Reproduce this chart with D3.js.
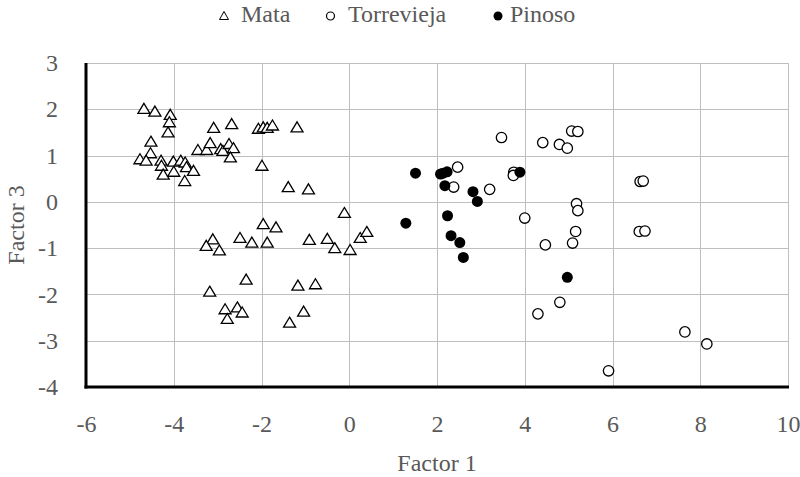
<!DOCTYPE html>
<html>
<head>
<meta charset="utf-8">
<script src="https://cdn.jsdelivr.net/npm/d3@7"></script>
<style>
  body { margin: 0; background: #fff; }
  text { font-family: "Liberation Serif", serif; fill: #595959; }
</style>
</head>
<body>
<script>
// Factor 1 vs Factor 3 scatter

const svgWidth = 800;
const svgHeight = 477;

const margin = { top: 63, right: 12, bottom: 90, left: 86 };
const width = svgWidth - margin.left - margin.right;
const height = svgHeight - margin.top - margin.bottom;

// tick values
const xTicks = [-6, -4, -2, 0, 2, 4, 6, 8, 10];
const yTicks = [-4, -3, -2, -1, 0, 1, 2, 3];

// [factor1, factor3]
const mata = [
  [-4.68, 2.01], [-4.43, 1.95], [-4.08, 1.88], [-4.10, 1.72], [-4.13, 1.50],
  [-3.09, 1.60], [-2.68, 1.68], [-2.07, 1.58], [-1.96, 1.61], [-1.87, 1.60],
  [-1.75, 1.65], [-1.19, 1.61], [-4.52, 1.30], [-4.53, 1.05], [-4.77, 0.92],
  [-4.63, 0.89], [-4.29, 0.89], [-4.28, 0.78], [-4.24, 0.59], [-4.01, 0.87],
  [-4.00, 0.65], [-3.84, 0.89], [-3.74, 0.85], [-3.71, 0.75], [-3.55, 0.67],
  [-3.75, 0.45], [-3.45, 1.12], [-3.25, 1.12], [-3.17, 1.27], [-2.93, 1.14],
  [-2.88, 1.10], [-2.74, 1.25], [-2.64, 1.16], [-2.71, 0.96], [-1.99, 0.78],
  [-1.39, 0.32], [-0.93, 0.27], [-0.11, -0.24], [-1.96, -0.48], [-1.67, -0.55],
  [-3.11, -0.81], [-3.26, -0.95], [-2.96, -1.05], [-2.49, -0.78], [-2.22, -0.88],
  [-1.87, -0.88], [-0.91, -0.82], [-0.50, -0.80], [-0.33, -1.00], [0.02, -1.04],
  [0.25, -0.78], [0.40, -0.65], [-2.35, -1.68], [-3.18, -1.94], [-1.17, -1.81],
  [-0.77, -1.78], [-2.83, -2.32], [-2.55, -2.28], [-2.44, -2.39], [-2.78, -2.53],
  [-1.04, -2.37], [-1.36, -2.61]
];

const torrevieja = [
  [3.47, 1.39], [4.41, 1.28], [4.79, 1.24], [4.97, 1.16], [5.07, 1.53],
  [5.21, 1.52], [2.47, 0.75], [2.38, 0.32], [3.20, 0.27], [3.75, 0.64],
  [3.74, 0.57], [4.00, -0.35], [4.47, -0.93], [6.63, 0.44], [6.70, 0.45],
  [5.18, -0.04], [5.21, -0.19], [5.16, -0.64], [6.61, -0.64], [6.74, -0.63],
  [5.09, -0.89], [4.80, -2.17], [4.30, -2.42], [7.65, -2.81], [5.91, -3.65],
  [8.15, -3.07]
];

const pinoso = [
  [1.51, 0.62], [2.08, 0.60], [2.14, 0.62], [2.23, 0.65], [2.18, 0.35],
  [2.82, 0.22], [2.92, 0.01], [3.89, 0.64], [1.29, -0.46], [2.24, -0.30],
  [2.32, -0.73], [2.52, -0.88], [2.60, -1.20], [4.97, -1.63]
];

const triPath = "M0,-5.5L6,4.5L-6,4.5Z";
const fontSize = "24px";

let svg = d3.select("body")
  .append("svg")
  .attr("width", svgWidth)
  .attr("height", svgHeight);

let chartGroup = svg.append("g")
  .attr("transform", `translate(${margin.left}, ${margin.top})`);

const xScale = d3.scaleLinear().domain([-6, 10]).range([0, width]);
const yScale = d3.scaleLinear().domain([-4, 3]).range([height, 0]);

// gridlines
chartGroup.append("g")
  .selectAll("line")
  .data(xTicks)
  .enter()
  .append("line")
  .attr("x1", d => Math.round(xScale(d)) + 0.5)
  .attr("x2", d => Math.round(xScale(d)) + 0.5)
  .attr("y1", 0)
  .attr("y2", height)
  .attr("stroke", "#bfbfbf")
  .attr("stroke-width", 1);

chartGroup.append("g")
  .selectAll("line")
  .data(yTicks)
  .enter()
  .append("line")
  .attr("x1", 0)
  .attr("x2", width)
  .attr("y1", d => Math.round(yScale(d)) + 0.5)
  .attr("y2", d => Math.round(yScale(d)) + 0.5)
  .attr("stroke", "#bfbfbf")
  .attr("stroke-width", 1);

// axes
const bottomAxis = d3.axisBottom(xScale).tickValues(xTicks).tickSize(0).tickPadding(28).tickFormat(d => String(d));
const leftAxis = d3.axisLeft(yScale).tickValues(yTicks).tickSize(0).tickPadding(28).tickFormat(d => String(d));

let xAxis = chartGroup.append("g")
  .attr("transform", `translate(0, ${height})`)
  .call(bottomAxis);

let yAxis = chartGroup.append("g")
  .call(leftAxis);

[xAxis, yAxis].forEach(a => {
  a.select(".domain").remove();
  a.selectAll("text")
    .attr("fill", "#595959")
    .style("font-family", "'Liberation Serif', serif")
    .style("font-size", fontSize);
});

chartGroup.append("line")
  .attr("x1", -1.5).attr("x2", width + 1)
  .attr("y1", height).attr("y2", height)
  .attr("stroke", "#000").attr("stroke-width", 3);

chartGroup.append("line")
  .attr("x1", 0).attr("x2", 0)
  .attr("y1", 0).attr("y2", height + 1.5)
  .attr("stroke", "#000").attr("stroke-width", 3);

// markers
chartGroup.append("g")
  .selectAll("path")
  .data(mata)
  .enter()
  .append("path")
  .attr("d", triPath)
  .attr("transform", d => `translate(${xScale(d[0])}, ${yScale(d[1])})`)
  .attr("fill", "#fff")
  .attr("stroke", "#000")
  .attr("stroke-width", 1.3);

chartGroup.append("g")
  .selectAll("circle")
  .data(torrevieja)
  .enter()
  .append("circle")
  .attr("cx", d => xScale(d[0]))
  .attr("cy", d => yScale(d[1]))
  .attr("r", 5.2)
  .attr("fill", "#fff")
  .attr("stroke", "#000")
  .attr("stroke-width", 1.3);

chartGroup.append("g")
  .selectAll("circle")
  .data(pinoso)
  .enter()
  .append("circle")
  .attr("cx", d => xScale(d[0]))
  .attr("cy", d => yScale(d[1]))
  .attr("r", 5.5)
  .attr("fill", "#000");

// axis titles
svg.append("text")
  .attr("x", margin.left + width / 2)
  .attr("y", 471)
  .attr("text-anchor", "middle")
  .style("font-size", fontSize)
  .text("Factor 1");

svg.append("text")
  .attr("transform", `translate(24, ${margin.top + height / 2}) rotate(-90)`)
  .attr("text-anchor", "middle")
  .style("font-size", fontSize)
  .text("Factor 3");

// legend
const legend = svg.append("g").attr("transform", "translate(0, 22)");

legend.append("path")
  .attr("d", "M0,-4.5L4.5,3.5L-4.5,3.5Z")
  .attr("transform", "translate(224, -6)")
  .attr("fill", "#fff").attr("stroke", "#000").attr("stroke-width", 1);
legend.append("text").attr("x", 241).attr("y", 0).style("font-size", fontSize).text("Mata");

legend.append("circle")
  .attr("cx", 330.5).attr("cy", -6).attr("r", 4)
  .attr("fill", "#fff").attr("stroke", "#000").attr("stroke-width", 1.2);
legend.append("text").attr("x", 348).attr("y", 0).style("font-size", fontSize).text("Torrevieja");

legend.append("circle")
  .attr("cx", 498).attr("cy", -6).attr("r", 4.5)
  .attr("fill", "#000");
legend.append("text").attr("x", 510).attr("y", 0).style("font-size", fontSize).text("Pinoso");
</script>
</body>
</html>
